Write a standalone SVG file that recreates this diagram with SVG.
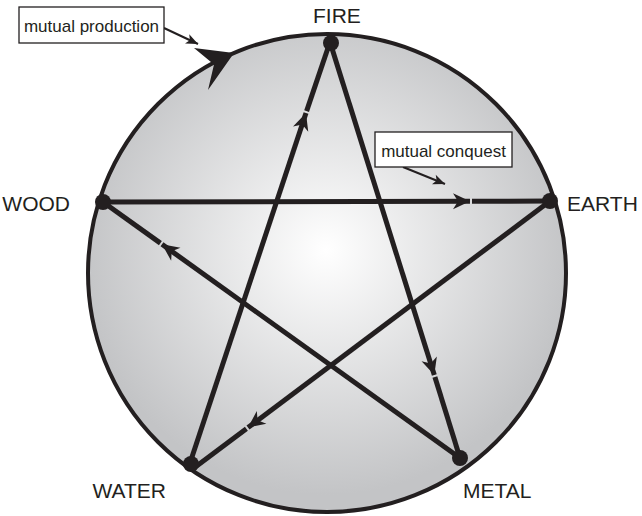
<svg xmlns="http://www.w3.org/2000/svg" width="642" height="516" viewBox="0 0 642 516">
  <defs>
    <radialGradient id="bg" gradientUnits="userSpaceOnUse" cx="326" cy="250" r="245">
      <stop offset="0" stop-color="#ffffff"/>
      <stop offset="1" stop-color="#c3c4c6"/>
    </radialGradient>
    <marker id="ah" markerUnits="userSpaceOnUse" viewBox="-18 -9 19 18" refX="0" refY="0" markerWidth="19" markerHeight="18" orient="auto">
      <path d="M0,0 L-17,-8 L-12,0 L-17,8 Z" fill="#231f20"/>
    </marker>
    <marker id="sh" markerUnits="userSpaceOnUse" viewBox="-13 -6 14 12" refX="0" refY="0" markerWidth="14" markerHeight="12" orient="auto">
      <path d="M0,0 L-12,-5 L-9,0 L-12,5 Z" fill="#231f20"/>
    </marker>
  </defs>
  <style>
    .lbl { font-family: "Liberation Sans", Arial, sans-serif; font-size: 21px; fill: #231f20; }
    .note { font-family: "Liberation Sans", Arial, sans-serif; font-size: 17px; fill: #231f20; }
    .box { fill: #ffffff; stroke: #231f20; stroke-width: 1.3; }
    .edge { fill: none; stroke: #231f20; stroke-width: 5; stroke-linecap: butt; }
    .arr { marker-end: url(#ah); }
    .lead { fill: none; stroke: #231f20; stroke-width: 2; marker-end: url(#sh); }
    .dot { fill: #231f20; }
  </style>

  <g id="cycle">
    <circle cx="327" cy="273" r="239" fill="url(#bg)" stroke="#231f20" stroke-width="4"/>
    <path d="M234,53 L194,48 L214,64.5 L208,90 Z" fill="#231f20"/>
  </g>

  <g id="connectors">
    <!-- WOOD -> EARTH -->
    <line class="edge arr" x1="103" y1="202" x2="470" y2="201.3"/>
    <line class="edge" x1="472" y1="201.3" x2="550" y2="201"/>
    <!-- EARTH -> WATER -->
    <line class="edge arr" x1="550" y1="201" x2="248" y2="427.5"/>
    <line class="edge" x1="246.4" y1="428.7" x2="194" y2="468"/>
    <!-- WATER -> FIRE -->
    <line class="edge arr" x1="190" y1="463" x2="306" y2="113"/>
    <line class="edge" x1="306.6" y1="111.1" x2="330" y2="42"/>
    <!-- FIRE -> METAL -->
    <line class="edge arr" x1="330" y1="42" x2="434.3" y2="375"/>
    <line class="edge" x1="434.9" y1="376.9" x2="460" y2="458"/>
    <!-- METAL -> WOOD -->
    <line class="edge arr" x1="460" y1="458" x2="162" y2="244.3"/>
    <line class="edge" x1="160.4" y1="243.1" x2="103" y2="202"/>
    <!-- leaders -->
    <line class="lead" x1="164" y1="28" x2="198" y2="44"/>
    <line class="lead" x1="403" y1="167" x2="445" y2="184"/>
  </g>

  <g id="fire">
    <circle class="dot" cx="331" cy="43" r="8"/>
    <text class="lbl" x="313" y="23">FIRE</text>
  </g>
  <g id="earth">
    <circle class="dot" cx="550" cy="201" r="8"/>
    <text class="lbl" x="567" y="211">EARTH</text>
  </g>
  <g id="metal">
    <circle class="dot" cx="460" cy="458" r="8"/>
    <text class="lbl" x="463" y="498">METAL</text>
  </g>
  <g id="water">
    <circle class="dot" cx="191" cy="464" r="8"/>
    <text class="lbl" x="166" y="498" text-anchor="end">WATER</text>
  </g>
  <g id="wood">
    <circle class="dot" cx="103" cy="202" r="8"/>
    <text class="lbl" x="70" y="211" text-anchor="end">WOOD</text>
  </g>

  <g id="mutual-production">
    <rect class="box" x="19" y="7" width="145" height="36"/>
    <text class="note" x="91.5" y="32" text-anchor="middle">mutual production</text>
  </g>
  <g id="mutual-conquest">
    <rect class="box" x="375" y="132" width="137" height="35"/>
    <text class="note" x="443.5" y="157" text-anchor="middle">mutual conquest</text>
  </g>
</svg>
